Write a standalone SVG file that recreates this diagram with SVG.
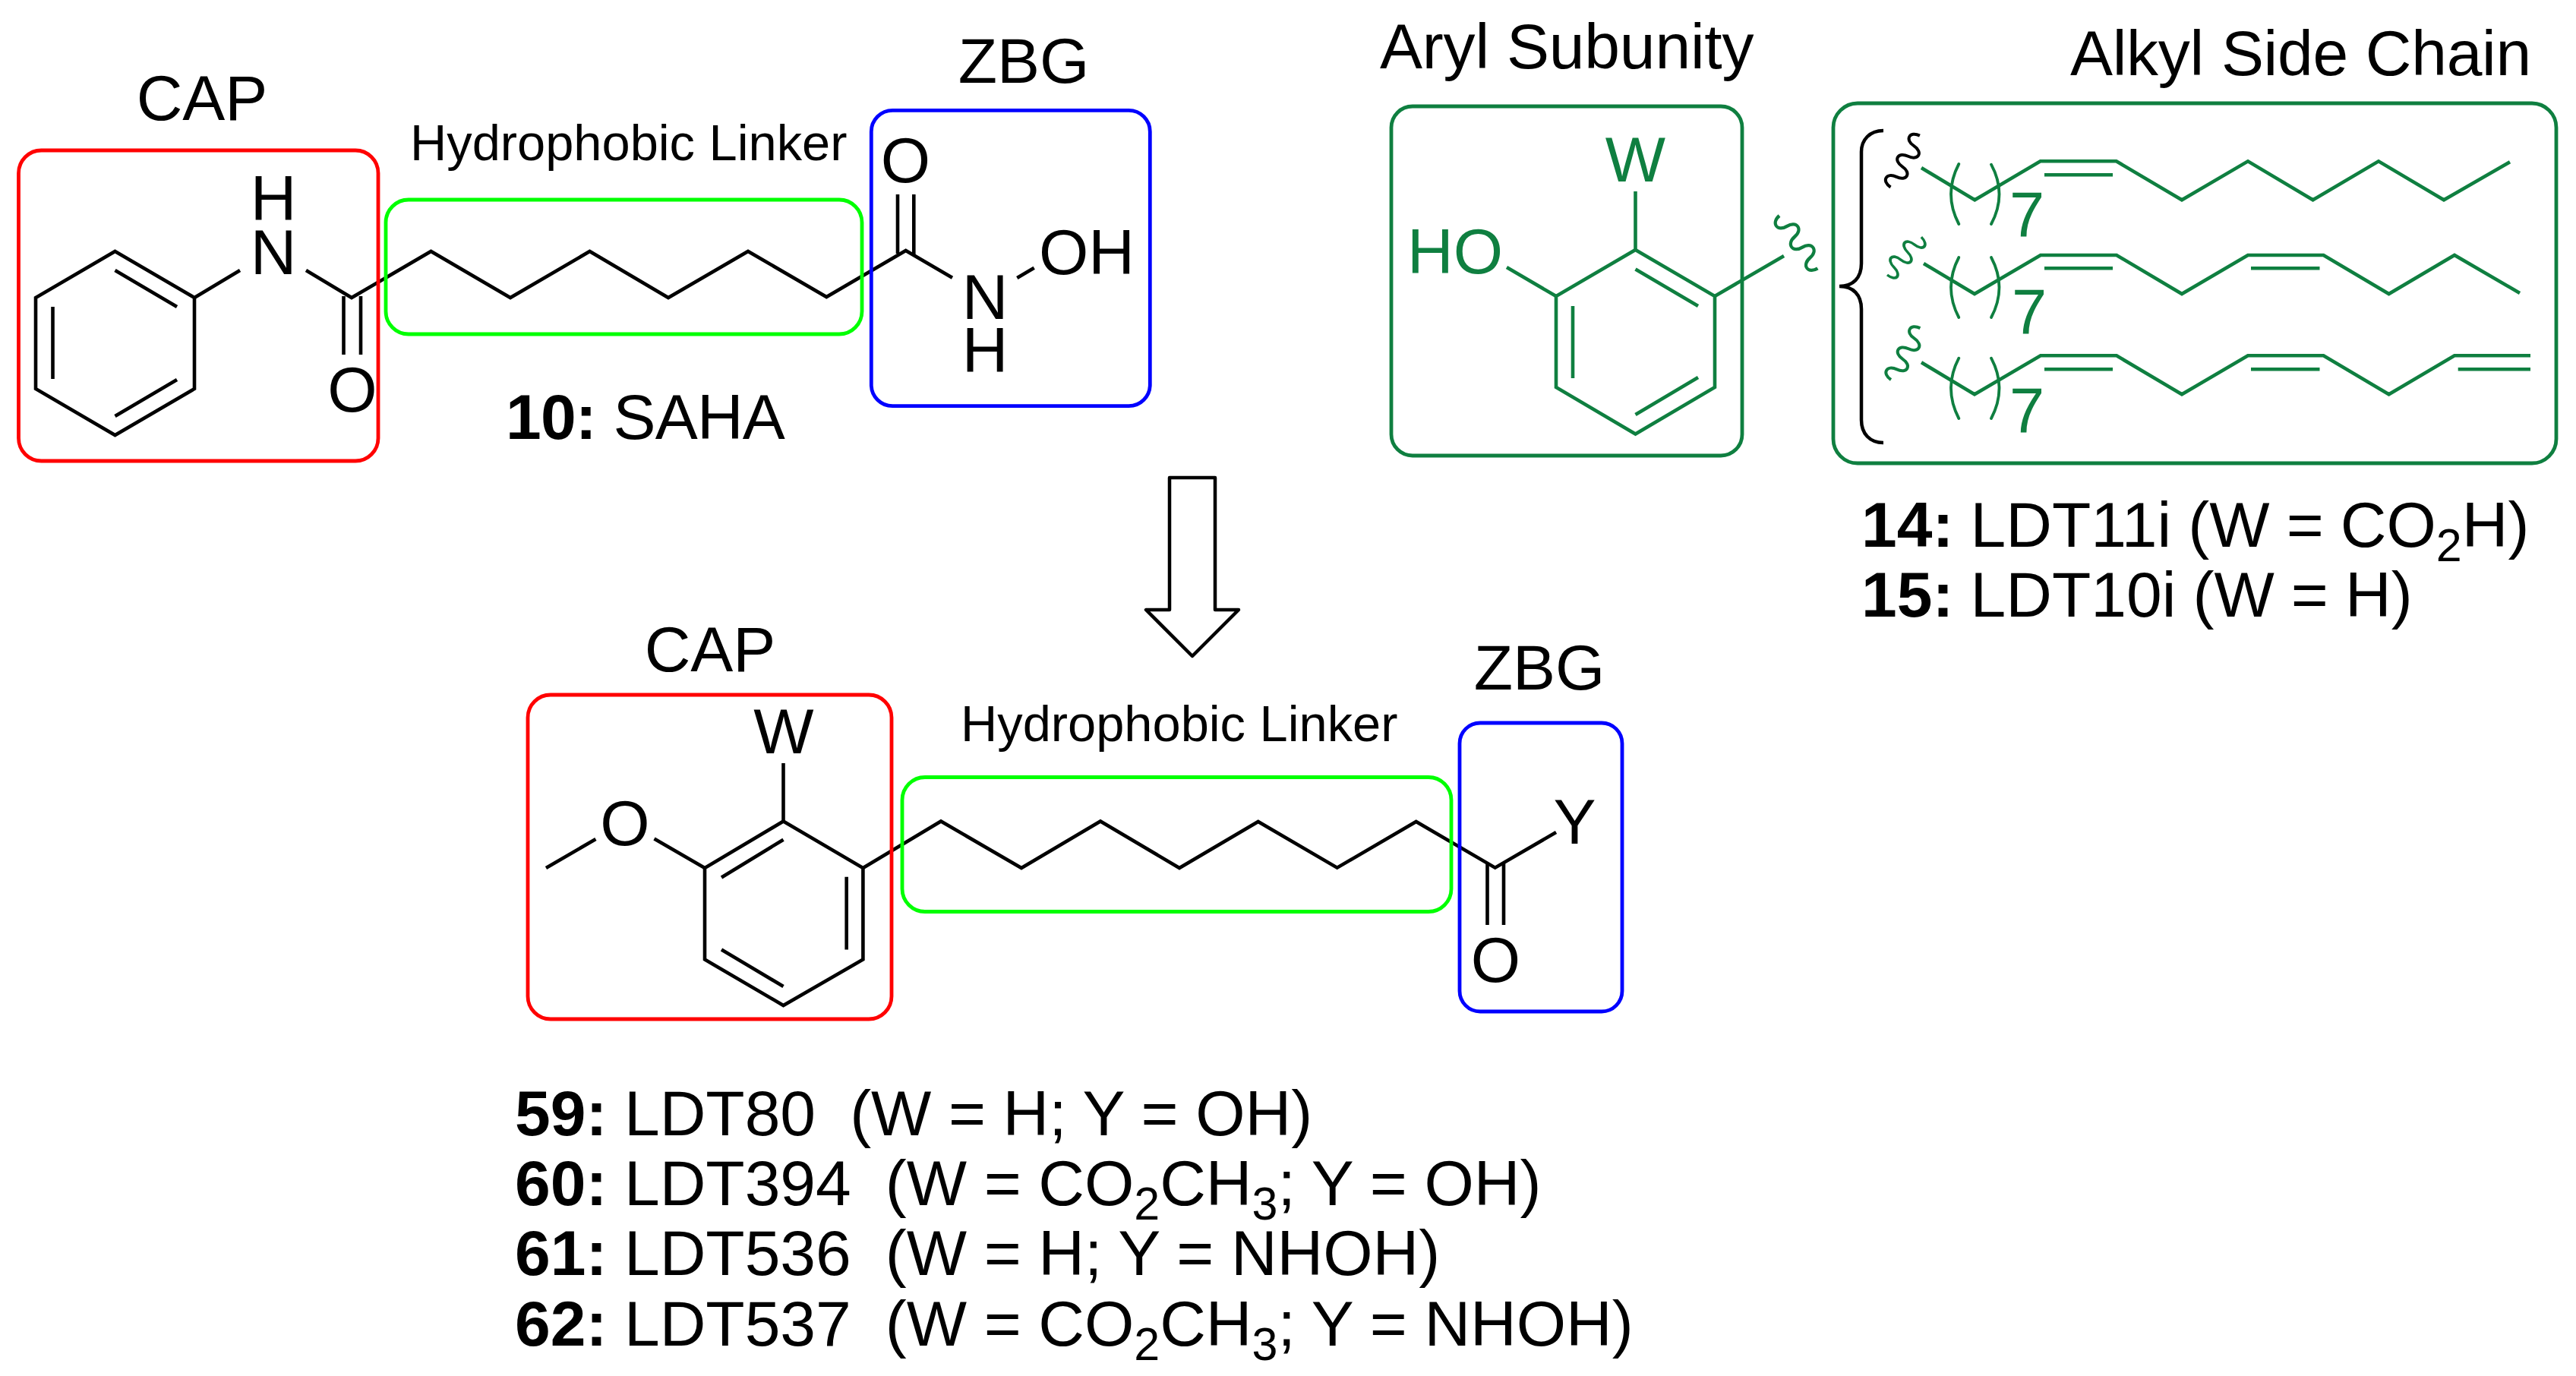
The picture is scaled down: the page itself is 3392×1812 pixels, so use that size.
<svg xmlns="http://www.w3.org/2000/svg" width="3392" height="1812" viewBox="0 0 3392 1812">
<style>
text{font-family:"Liberation Sans",Arial,sans-serif;font-size:84px;fill:#000;white-space:pre}
.c{text-anchor:middle}
.g{fill:#0f7f40}
.sm{font-size:66.8px}
.b{font-weight:bold}
.sub{font-size:61px}
.list{word-spacing:-1.2px}
.list2{word-spacing:-.8px}
.seven{font-size:83px}
.bond{fill:none;stroke:#000;stroke-width:4.6;stroke-linejoin:miter}
.gb{fill:none;stroke:#0f7f40;stroke-width:4.6;stroke-linejoin:miter}
.box{fill:none;stroke-width:4.8}
.red{stroke:#f00}.lime{stroke:#0f0}.blue{stroke:#00f}.dg{stroke:#0f7f40}
.paren{fill:none;stroke:#0f7f40;stroke-width:3.8;stroke-linecap:round}
.brace{fill:none;stroke:#000;stroke-width:4.5}
.sq{fill:none;stroke-width:4}
</style>
<defs>
<path id="wave" d="M0,0c1,-15 14.6,-15 15.6,0c1,15 14.6,15 15.6,0c1,-15 14.6,-15 15.6,0c1,15 14.6,15 15.6,0c1,-15 14.6,-15 15.6,0"/>
</defs>

<g id="saha-molecule">
<path class="bond" d="M151.5,331L256,392V512L151.5,573L47,512V392Z"/>
<path class="bond" d="M151.5,356L233,404M69.5,404V499M151.5,548L233,500"/>
<path class="bond" d="M256,392L316,356M403,356L463,392L567.5,331L672,392L776.5,331L880,392L985,331L1088.3,391L1192.7,330L1254,365.7"/>
<path class="bond" d="M452.5,390V467M475,390V467M1182,334V256M1203.3,335V256M1339.3,366L1361.7,352.7"/>
<text class="c" x="360" y="290">H</text>
<text class="c" x="360" y="361">N</text>
<text class="c" x="464" y="542">O</text>
<text class="c" x="1192.5" y="240">O</text>
<text class="c" x="1297" y="420">N</text>
<text class="c" x="1297" y="490">H</text>
<text x="1368" y="360.7">OH</text>
</g>

<g id="saha-cap"><rect class="box red" x="24.5" y="198" width="473.5" height="409" rx="30"/><text class="c" x="266" y="158">CAP</text></g>
<g id="saha-linker"><rect class="box lime" x="508" y="263" width="627" height="177" rx="30"/><text class="sm" x="540" y="211">Hydrophobic Linker</text></g>
<g id="saha-zbg"><rect class="box blue" x="1147.3" y="145.3" width="367" height="389.4" rx="28"/><text class="c" x="1348" y="109.3">ZBG</text></g>
<g id="saha-label"><text x="666" y="578" style="letter-spacing:-.8px"><tspan class="b">10:</tspan> SAHA</text></g>

<g id="aryl-subunit">
<path class="gb" d="M2153.5,329L2258,390V510L2153.5,571.5L2049,510V390Z"/>
<path class="gb" d="M2153.5,354.5L2236,403M2071,403V498M2153.5,546L2236,497M2153.5,252V329M1984,352L2049,390M2258,390L2349,337"/>
<use href="#wave" class="sq dg" transform="translate(2343,284) rotate(54) scale(1.1,-1)"/>
<rect class="box dg" x="1832" y="140" width="462" height="460" rx="28"/>
<text class="c g" x="2153.5" y="239">W</text>
<text class="g" x="1853" y="360">HO</text>
<text x="1817" y="90" style="letter-spacing:-.2px">Aryl Subunity</text>
</g>

<g id="alkyl-side-chain">
<rect class="box dg" x="2414" y="136" width="952" height="474" rx="32"/>
<text x="2726" y="99" style="letter-spacing:-.3px">Alkyl Side Chain</text>
<path class="brace" d="M2480,172C2462,172 2451,184 2451,200V347C2451,366 2440,377 2422,377C2440,377 2451,388 2451,407V553C2451,571 2462,583 2480,583"/>
<g id="chain-1">
<use href="#wave" class="sq" stroke="#000" transform="translate(2489.5,246.5) rotate(-60.5)"/>
<path class="gb" d="M2530,221L2600.3,263.3L2686.7,212.3H2786.7L2873,263.3L2960,212.3L3045.6,263.3L3132,212.3L3218,263.3L3305,213.3"/>
<path class="gb" d="M2692,230.3H2782"/>
<path class="paren" d="M2579.3,216Q2558.7,255.5 2579.3,295M2622,216.7Q2643,255.5 2622,295"/>
<text class="g seven" x="2646" y="310.7">7</text>
</g>
<g id="chain-2">
<use href="#wave" class="sq dg" transform="translate(2485,362) rotate(-48) scale(.86,-1)"/>
<path class="gb" d="M2533,347L2600,387L2687,336H2787L2873,387L2960,336H3059.5L3145.6,387L3232,336L3318,386"/>
<path class="gb" d="M2692,353.3H2782M2964,353.3H3054.5"/>
<path class="paren" d="M2579.3,339Q2558.7,378.5 2579.3,418M2622,339Q2643,378.5 2622,418"/>
<text class="g seven" x="2649" y="439">7</text>
</g>
<g id="chain-3">
<use href="#wave" class="sq dg" transform="translate(2490,500) rotate(-60.5)"/>
<path class="gb" d="M2530,477.3L2600,519.3L2687,468.3H2787L2873,519.3L2960,468.3H3059.5L3145.6,519.3L3232,468.3H3332"/>
<path class="gb" d="M2692,486.3H2782M2964,486.3H3054.5M3236.7,486.3H3332"/>
<path class="paren" d="M2579.3,471.7Q2558.7,511.3 2579.3,551M2622,471.7Q2643,511.3 2622,551"/>
<text class="g seven" x="2646" y="569.3">7</text>
</g>
</g>

<g id="ldt-labels">
<text class="list" x="2451" y="720"><tspan class="b">14:</tspan> LDT11i (W = CO<tspan class="sub" dy="19">2</tspan><tspan dy="-19">H)</tspan></text>
<text class="list" x="2451" y="811.7"><tspan class="b">15:</tspan> LDT10i (W = H)</text>
</g>

<g id="connectors">
<path d="M1540,629H1600V803H1631L1570,864L1509,803H1540Z" fill="#fff" stroke="#000" stroke-width="4.5" stroke-linejoin="round"/>
</g>

<g id="ldt-molecule">
<path class="bond" d="M1031.5,1081.5L1136.4,1143V1263.5L1031.5,1324L928,1263.5V1143Z"/>
<path class="bond" d="M1031.5,1105.7L950,1155.5M1114.7,1154.7V1250.5M950,1250.5L1031.5,1299M1031.5,1005V1081.5M719,1143L784.4,1105M861.5,1104.5L928,1143"/>
<path class="bond" d="M1136.4,1143L1239,1081.5L1345,1143L1449,1081.5L1553,1143L1656.7,1082L1760.7,1142.7L1864.7,1082L1968.7,1142.7L2049,1096"/>
<path class="bond" d="M1958.5,1136V1218M1980,1136V1218"/>
<text class="c" x="1032" y="991.5">W</text>
<text class="c" x="823" y="1113">O</text>
<text class="c" x="1969.5" y="1293">O</text>
<text class="c" x="2073.5" y="1111">Y</text>
</g>

<g id="ldt-cap"><rect class="box red" x="695" y="915" width="479" height="427" rx="30"/><text class="c" x="935" y="883.5">CAP</text></g>
<g id="ldt-linker"><rect class="box lime" x="1188" y="1023.5" width="723" height="177" rx="30"/><text class="sm" x="1265" y="976">Hydrophobic Linker</text></g>
<g id="ldt-zbg"><rect class="box blue" x="1922" y="952" width="214" height="380" rx="27"/><text class="c" x="2027" y="908">ZBG</text></g>

<g id="compound-list">
<text class="list2" x="678" y="1495"><tspan class="b">59:</tspan> LDT80  (W = H; Y = OH)</text>
<text class="list2" x="678" y="1587"><tspan class="b">60:</tspan> LDT394  (W = CO<tspan class="sub" dy="19">2</tspan><tspan dy="-19">CH</tspan><tspan class="sub" dy="19">3</tspan><tspan dy="-19">; Y = OH)</tspan></text>
<text class="list2" x="678" y="1679"><tspan class="b">61:</tspan> LDT536  (W = H; Y = NHOH)</text>
<text class="list2" x="678" y="1772"><tspan class="b">62:</tspan> LDT537  (W = CO<tspan class="sub" dy="19">2</tspan><tspan dy="-19">CH</tspan><tspan class="sub" dy="19">3</tspan><tspan dy="-19">; Y = NHOH)</tspan></text>
</g>
</svg>
